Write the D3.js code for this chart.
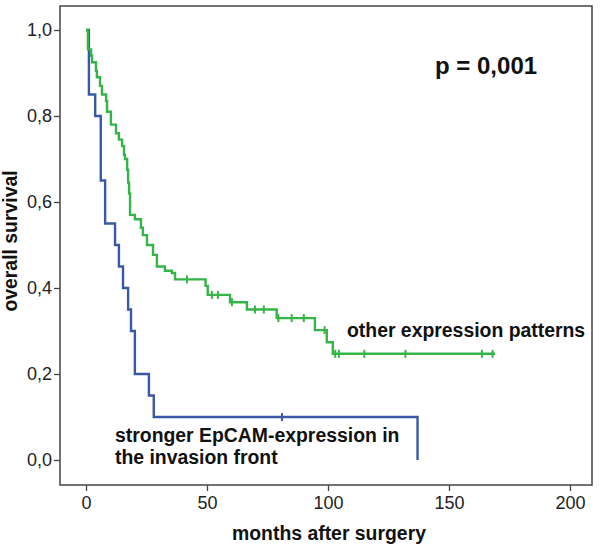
<!DOCTYPE html>
<html>
<head>
<meta charset="utf-8">
<script src="https://cdn.jsdelivr.net/npm/d3@7"></script>
<style>
  body { margin: 0; background: #fff; }
  svg { display: block; font-family: "Liberation Sans", Arial, sans-serif; }
</style>
</head>
<body>
<svg id="chart"></svg>
<script>
// Kaplan-Meier steps: time (months) of each drop and survival after it
const blueTimes = [0, 1.2, 3.8, 6.1, 7.9, 12, 13.6, 15.3, 17.4, 18.6, 20.2, 26, 28, 137];
const blueSurv  = [1, 0.85, 0.8, 0.65, 0.55, 0.5, 0.45, 0.4, 0.35, 0.3, 0.2, 0.15, 0.1, 0];
const blueCensor = [81];

const greenTimes = [0, 0.8, 2.1, 2.5, 4.1, 4.5, 5.8, 6.6, 8.3, 8.7, 10.3, 12.4, 13.6, 14.9, 15.7,
  16.1, 17, 17.4, 17.8, 18.2, 20.2, 22.7, 23.5, 25.2, 27.7, 29.3, 32.6, 35.5, 36.8,
  49.4, 50.3, 59.5, 66.5, 78.8, 94.6, 99.5, 102];
const greenSurv = [1, 0.955, 0.94, 0.925, 0.905, 0.89, 0.87, 0.85, 0.835, 0.81, 0.78, 0.76, 0.745, 0.73, 0.71,
  0.7, 0.675, 0.645, 0.62, 0.57, 0.56, 0.54, 0.523, 0.5, 0.477, 0.45, 0.44, 0.435, 0.42,
  0.405, 0.384, 0.367, 0.35, 0.33, 0.302, 0.274, 0.247];
const greenEnd = 169;
const greenCensor = [41.7, 52, 54.5, 60.3, 69.8, 73.5, 79.5, 85, 90, 98.6, 103, 104.5, 115, 132, 163.6, 168];

const xTicks = [0, 50, 100, 150, 200];
const yTicks = [0, 0.2, 0.4, 0.6, 0.8, 1.0];

const width = 600, height = 546;
const frame = { left: 60, right: 592, top: 6, bottom: 485 };

const svg = d3.select("#chart").attr("width", width).attr("height", height);

const x = d3.scaleLinear().domain([0, 200]).range([86, 570]);
const y = d3.scaleLinear().domain([0, 1]).range([460, 30]);

const comma = d3.formatLocale({ decimal: ",", thousands: ".", grouping: [3], currency: ["", ""] });

// frame
svg.append("rect")
    .attr("x", frame.left).attr("y", frame.top)
    .attr("width", frame.right - frame.left)
    .attr("height", frame.bottom - frame.top)
    .attr("fill", "none").attr("stroke", "#444").attr("stroke-width", 1.5);

// axes
const yAxis = svg.append("g")
    .attr("transform", `translate(${frame.left},0)`)
    .call(d3.axisLeft(y).tickValues(yTicks).tickSize(6).tickPadding(2).tickFormat(comma.format(".1f")));
const xAxis = svg.append("g")
    .attr("transform", `translate(0,${frame.bottom})`)
    .call(d3.axisBottom(x).tickValues(xTicks).tickSize(6).tickPadding(5));
[xAxis, yAxis].forEach(g => {
    g.select(".domain").remove();
    g.selectAll(".tick line").attr("stroke", "#444").attr("stroke-width", 1.3);
    g.selectAll(".tick text").attr("fill", "#222").style("font-size", "18px")
        .style("font-family", "'Liberation Sans', Arial, sans-serif");
});

// curves
const line = d3.line().x(d => x(d[0])).y(d => y(d[1])).curve(d3.curveStepAfter);
const stepAt = (times, surv, t) => surv[d3.bisectRight(times, t) - 1];

const series = [
    { times: blueTimes, surv: blueSurv, end: null, censor: blueCensor, color: "#3b58a6" },
    { times: greenTimes, surv: greenSurv, end: greenEnd, censor: greenCensor, color: "#35b447" }
];
series.forEach(s => {
    const pts = s.times.map((t, i) => [t, s.surv[i]]);
    if (s.end != null) pts.push([s.end, s.surv[s.surv.length - 1]]);
    svg.append("path").datum(pts)
        .attr("d", line)
        .attr("fill", "none").attr("stroke", s.color).attr("stroke-width", 2.4);
    svg.append("g").selectAll("line").data(s.censor).enter().append("line")
        .attr("x1", d => x(d)).attr("x2", d => x(d))
        .attr("y1", d => y(stepAt(s.times, s.surv, d)) - 4)
        .attr("y2", d => y(stepAt(s.times, s.surv, d)) + 4)
        .attr("stroke", s.color).attr("stroke-width", 2);
});

// texts
const bold = (t, px, xx, yy) => svg.append("text").text(t)
    .attr("x", xx).attr("y", yy)
    .attr("font-weight", "bold").attr("font-size", px).attr("fill", "#111");

bold("p = 0,001", 24, 435, 74);
bold("other expression patterns", 19.4, 347, 337);
bold("stronger EpCAM-expression in", 19.4, 115, 442);
bold("the invasion front", 19.4, 115, 464);
bold("months after surgery", 19.4, 329, 540).attr("text-anchor", "middle");
bold("overall survival", 19.4, 0, 0).attr("text-anchor", "middle")
    .attr("transform", "translate(17,241) rotate(-90)");
</script>
</body>
</html>
